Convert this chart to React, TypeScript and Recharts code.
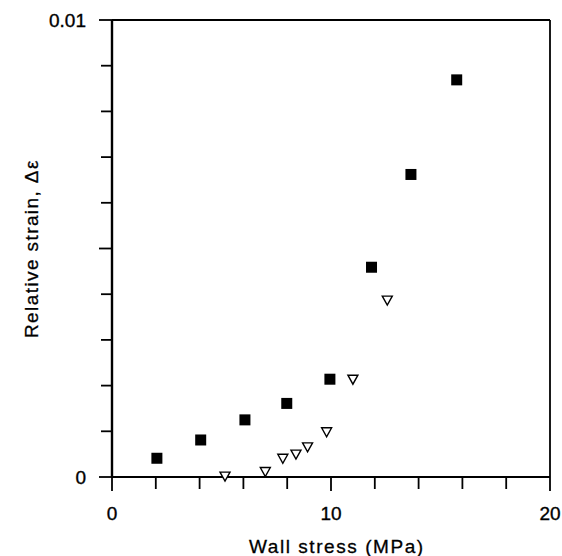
import React from "react";
import { ScatterChart, Scatter, XAxis, YAxis, ReferenceLine } from "recharts";

const squareX = [2.05, 4.05, 6.07, 7.98, 9.95, 11.85, 13.65, 15.74];
const squareY = [0.00041, 0.00081, 0.00125, 0.00161, 0.00214, 0.00459, 0.00662, 0.00869];
const triX = [5.16, 7.0, 7.8, 8.4, 8.93, 9.8, 11.0, 12.57];
const triY = [0.00002, 0.00012, 0.00041, 0.0005, 0.00066, 0.00099, 0.00214, 0.00387];

const xTicks = [0, 2, 4, 6, 8, 10, 12, 14, 16, 18, 20];
const xLabeled = [0, 10, 20];
const yTicks = [0, 0.001, 0.002, 0.003, 0.004, 0.005, 0.006, 0.007, 0.008, 0.009, 0.01];
const yMajor = [0, 0.005, 0.01];
const yLabeled = [0, 0.01];

const xTitle = "Wall stress (MPa)";
const yTitle = "Relative strain, Δε";

const squares = squareX.map((x, i) => ({ x, y: squareY[i] }));
const tris = triX.map((x, i) => ({ x, y: triY[i] }));

const FONT = "'Liberation Sans', Arial, Helvetica, sans-serif";
const near = (a: number, b: number) => Math.abs(a - b) < 1e-9;

const XTick = (props: any) => {
  const { x, y, payload } = props;
  const v = payload.value;
  const major = xLabeled.some((t) => near(t, v));
  return (
    <g>
      <line x1={x} x2={x} y1={y} y2={y + (major ? 14 : 12)} stroke="#000" strokeWidth={1.8} />
      {major && (
        <text x={x} y={y + 43} textAnchor="middle" fontSize={19} fontFamily={FONT} fill="#000" stroke="#000" strokeWidth={0.35}>
          {String(v)}
        </text>
      )}
    </g>
  );
};

const YTick = (props: any) => {
  const { x, y, payload } = props;
  const v = payload.value;
  const major = yMajor.some((t) => near(t, v));
  const labeled = yLabeled.some((t) => near(t, v));
  return (
    <g>
      <line x1={x - (major ? 13 : 11)} x2={x} y1={y} y2={y} stroke="#000" strokeWidth={1.8} />
      {labeled && (
        <text x={x - 26} y={y + 7} textAnchor="end" fontSize={19} fontFamily={FONT} fill="#000" stroke="#000" strokeWidth={0.35}>
          {String(v)}
        </text>
      )}
    </g>
  );
};

const SquareShape = (props: any) => {
  const { cx, cy } = props;
  return <rect x={cx - 5.5} y={cy - 5.5} width={11} height={11} fill="#000" />;
};

const TriShape = (props: any) => {
  const { cx, cy } = props;
  const pts = `${cx - 5},${cy - 4} ${cx + 5},${cy - 4} ${cx},${cy + 5}`;
  return <polygon points={pts} fill="#fff" stroke="#000" strokeWidth={1.4} />;
};

const spacingList = (s: string, gap: number) =>
  Array.from(s).map((_, i) => (i === 0 ? 0 : gap)).join(" ");

const XTitle = () => (
  <text
    x={249}
    y={553}
    textAnchor="start"
    fontSize={19}
    fontFamily={FONT}
    fill="#000"
    stroke="#000"
    strokeWidth={0.3}
    dx={spacingList(xTitle, 1.55)}
  >
    {xTitle}
  </text>
);

const YTitle = () => (
  <text
    x={0}
    y={0}
    textAnchor="start"
    fontSize={19}
    fontFamily={FONT}
    fill="#000"
    stroke="#000"
    strokeWidth={0.3}
    dx={spacingList(yTitle, 1.4)}
    transform="translate(38, 338) rotate(-90)"
  >
    {yTitle}
  </text>
);

export default function App() {
  return (
    <div style={{ position: "absolute", left: 0, top: 0, width: 562, height: 556, background: "#fff" }}>
      <ScatterChart width={562} height={556} margin={{ top: 20, right: 12, bottom: 0, left: 0 }}>
        <XAxis
          type="number"
          dataKey="x"
          domain={[0, 20]}
          ticks={xTicks}
          interval={0}
          height={79}
          tickSize={0}
          tickMargin={0}
          tickLine={false}
          tick={<XTick />}
          axisLine={{ stroke: "#000", strokeWidth: 2.2 }}
          label={<XTitle />}
        />
        <YAxis
          type="number"
          dataKey="y"
          domain={[0, 0.01]}
          ticks={yTicks}
          interval={0}
          width={112}
          tickSize={0}
          tickMargin={0}
          tickLine={false}
          tick={<YTick />}
          axisLine={{ stroke: "#000", strokeWidth: 2.4 }}
          label={<YTitle />}
        />
        <ReferenceLine y={0.01} stroke="#000" strokeWidth={1.8} />
        <ReferenceLine x={20} stroke="#000" strokeWidth={1.8} />
        <Scatter data={squares} shape={<SquareShape />} isAnimationActive={false} />
        <Scatter data={tris} shape={<TriShape />} isAnimationActive={false} />
      </ScatterChart>
    </div>
  );
}
